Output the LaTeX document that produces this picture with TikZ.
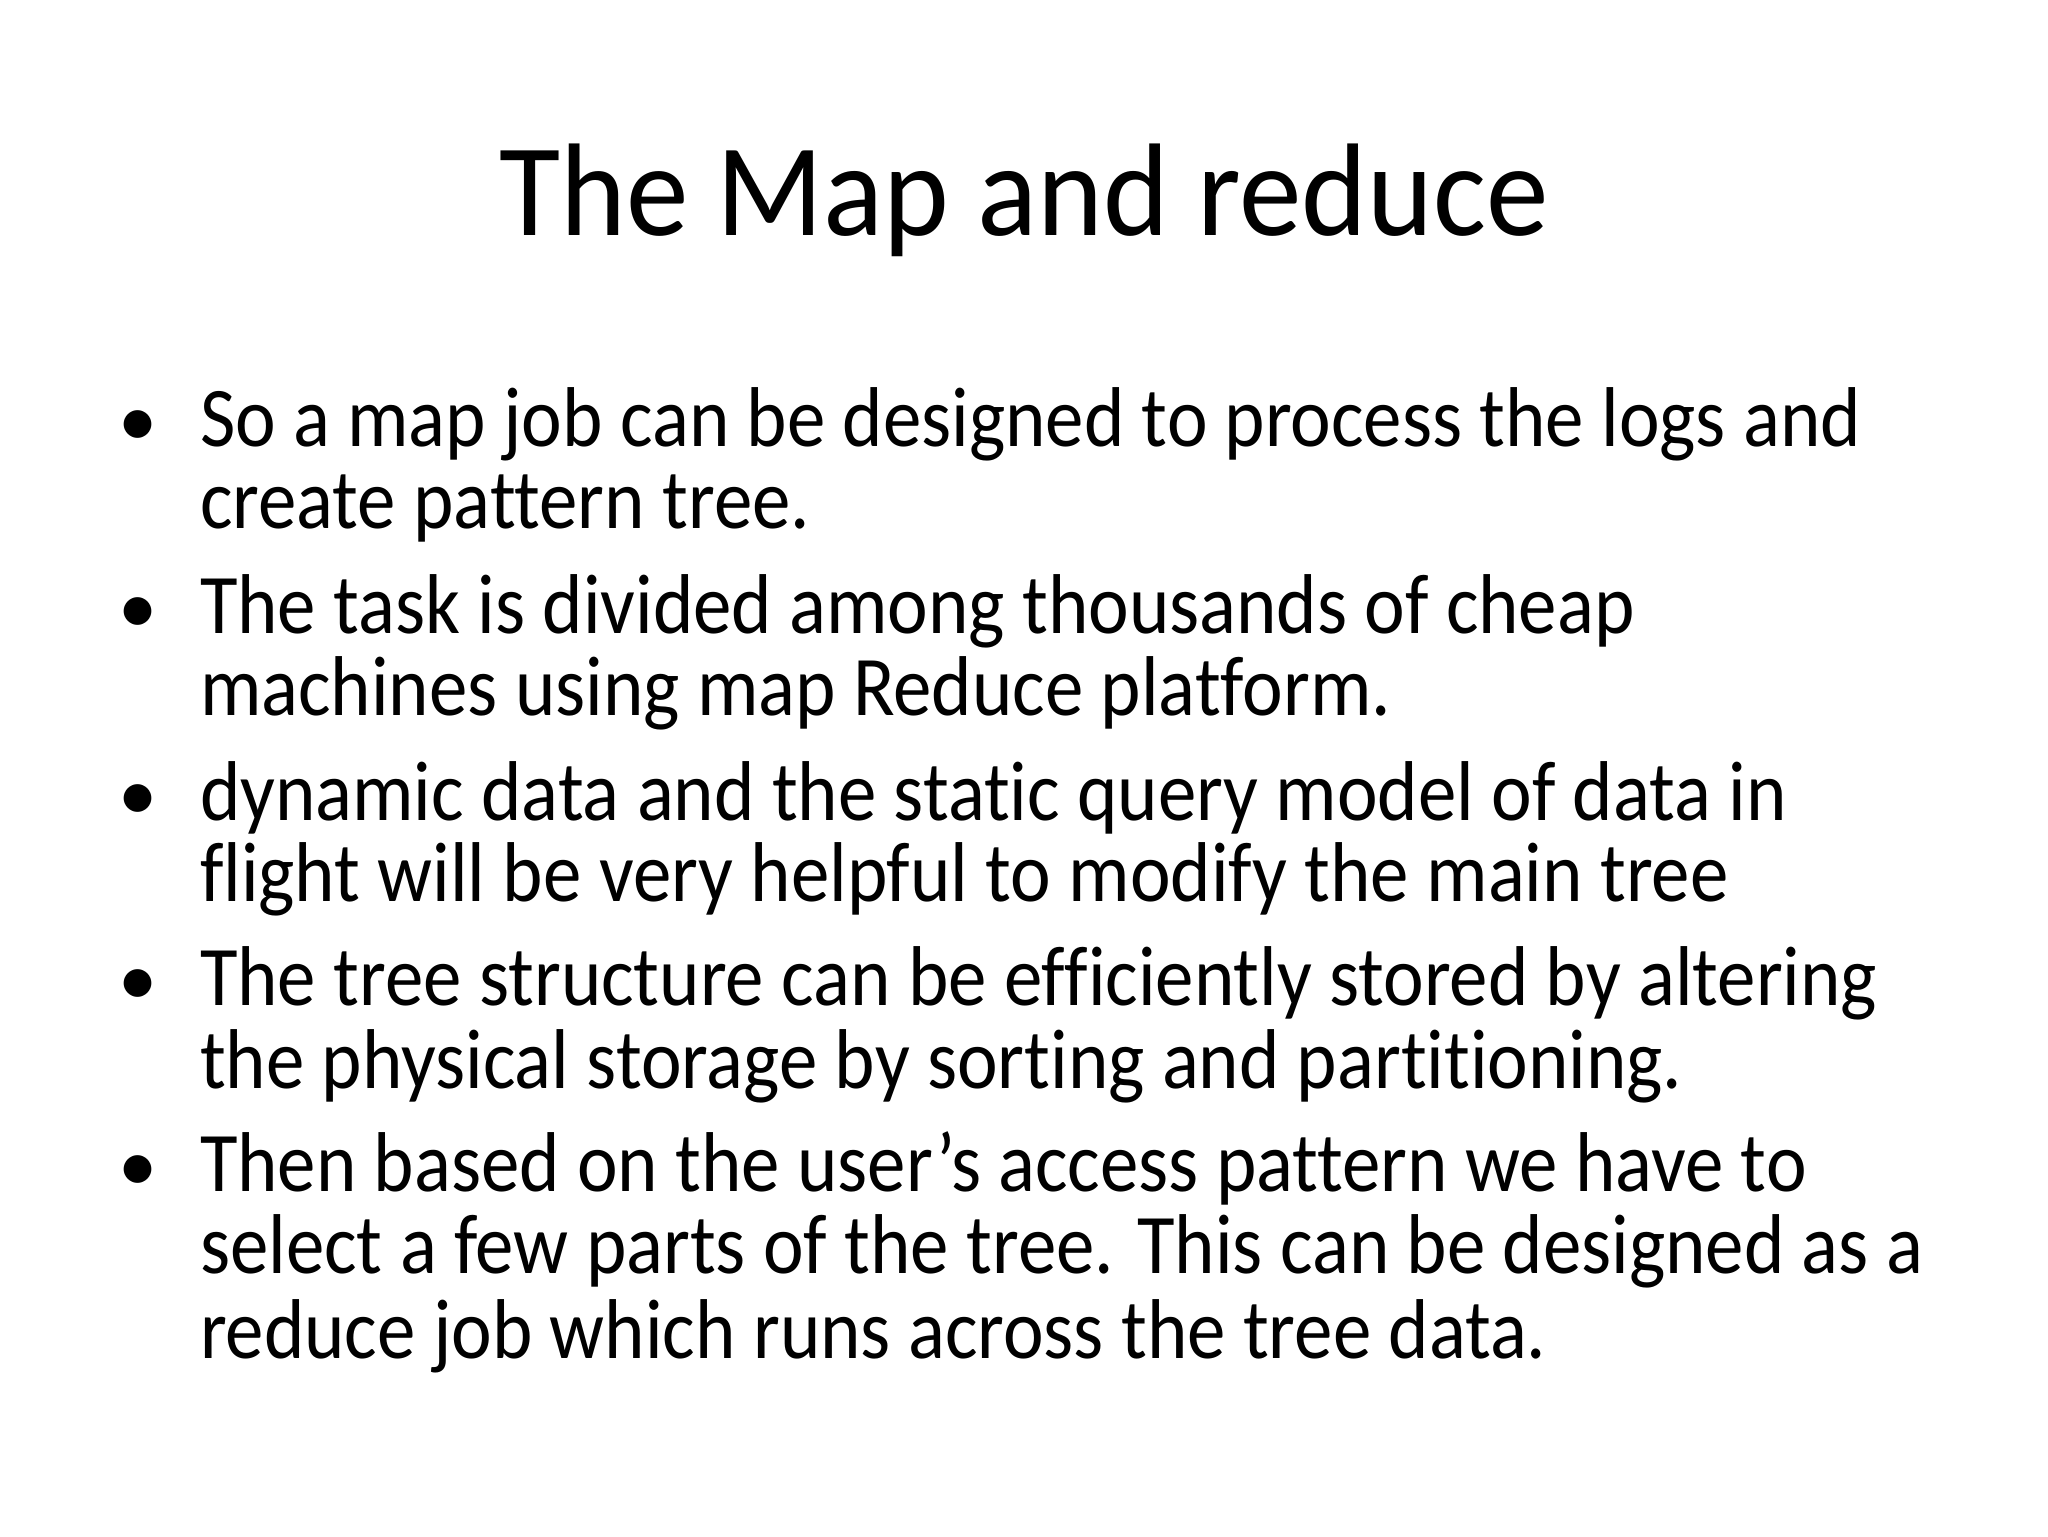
\documentclass[tikz,border=0pt]{standalone}
\usepackage{fontspec}
\setmainfont[Ligatures=NoCommon]{Carlito}
\begin{document}
\begin{tikzpicture}[x=1pt,y=1pt,
  ln/.style={anchor=base west,inner sep=0pt,font=\fontsize{65}{70}\selectfont,xscale=0.906,transform shape},
  bul/.style={anchor=base,inner sep=0pt,font=\fontsize{60}{70}\selectfont}]
\useasboundingbox (0,0) rectangle (1568,1176);
\node[anchor=base,inner sep=0pt,font=\fontsize{101}{110}\selectfont,xscale=0.949,transform shape] (title) at (784,996) {The Map and reduce};
\node[bul] (b1) at (106,834) {•};
\node[ln] (l1) at (153,834) {So a map job can be designed to process the logs and};
\node[ln] (l2) at (153,771) {create pattern tree.};
\node[bul] (b2) at (106,691) {•};
\node[ln] (l3) at (153,691) {The task is divided among thousands of cheap};
\node[ln] (l4) at (153,628) {machines using map Reduce platform.};
\node[bul] (b3) at (106,548) {•};
\node[ln] (l5) at (153,548) {dynamic data and the static query model of data in};
\node[ln] (l6) at (153,486) {flight will be very helpful to modify the main tree};
\node[bul] (b4) at (106,406) {•};
\node[ln] (l7) at (153,406) {The tree structure can be efficiently stored by altering};
\node[ln] (l8) at (153,343) {the physical storage by sorting and partitioning.};
\node[bul] (b5) at (106,264) {•};
\node[ln] (l9) at (153,264) {Then based on the user’s access pattern we have to};
\node[ln] (l10) at (153,201) {select a few parts of the tree. This can be designed as a};
\node[ln] (l11) at (153,136) {reduce job which runs across the tree data.};
\end{tikzpicture}
\end{document}
